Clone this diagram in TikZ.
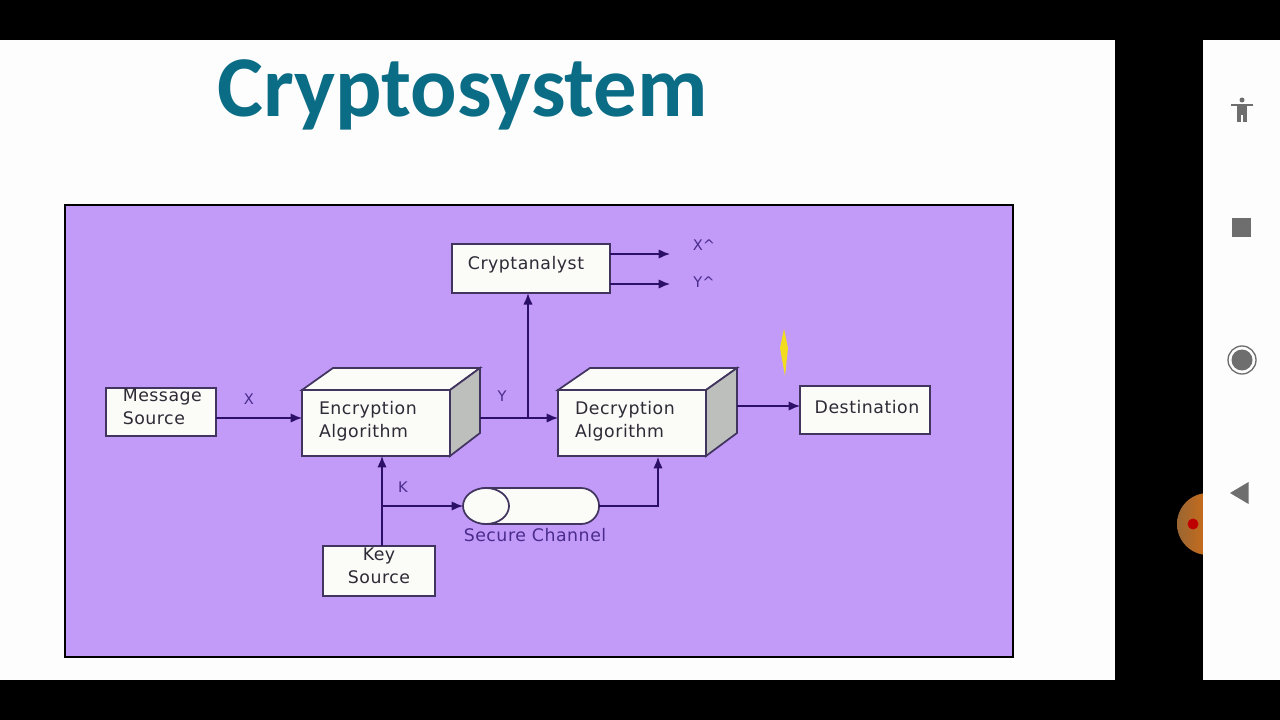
\documentclass[tikz,border=0pt]{standalone}
\usepackage{fontspec}
\setmainfont{DejaVu Sans}
\newfontfamily\titlefont{Carlito}
\usetikzlibrary{shapes.misc,shapes.geometric,arrows.meta}
\definecolor{slidewhite}{HTML}{FCFDFC}
\definecolor{slidepurple}{HTML}{C29AF8}
\definecolor{titleteal}{HTML}{0B6C86}
\definecolor{wirecolor}{HTML}{2C0F66}
\definecolor{edgecolor}{HTML}{41355F}
\definecolor{boxwhite}{HTML}{FBFBF8}
\definecolor{sidegrey}{HTML}{BDBFBC}
\definecolor{labelpurple}{HTML}{4A2C8C}
\definecolor{textgrey}{HTML}{2E2A36}
\definecolor{icongrey}{HTML}{6E6E6E}
\definecolor{sparkyellow}{HTML}{F2DC1E}
\tikzset{
	cryptbox/.style={draw=edgecolor,fill=boxwhite,line width=1.3pt,rectangle,outer sep=0pt,text=textgrey,font=\fontsize{13}{17}\selectfont\addfontfeature{LetterSpace=3}},
	wire/.style={draw=wirecolor,line width=1.1pt},
	arrowwire/.style={wire,-{Latex[length=8.5pt,width=7pt]}},
	wirelabel/.style={text=labelpurple,font=\fontsize{11}{13}\selectfont,inner sep=0pt},
}
\begin{document}
\begin{tikzpicture}[x=0.75pt,y=-0.75pt]
	\useasboundingbox (0,0) rectangle (1280,720);
	\fill[black] (0,0) rectangle (1280,720);
	\fill[slidewhite] (0,40) rectangle (1115,680);
	\shade[left color=brown!80!black,right color=orange!90!red] (1208,524) circle (31);
	\fill[red!75!black] (1193,524) circle (5.5);
	\fill[slidewhite] (1203,40) rectangle (1280,680);
	\node (title) at (462.5,95) [text=titleteal,font=\titlefont\bfseries\fontsize{65}{70}\selectfont,inner sep=0pt] {Cryptosystem};
	\draw[black,line width=2.2pt,fill=slidepurple] (65,205) rectangle (1013,657);
	% solid boxes
	\node (enc) at (376,423) [cryptbox,minimum width=111pt,minimum height=49.5pt,text width=85.5pt,inner xsep=12.75pt,align=left] {Encryption\\Algorithm\par\vspace{3pt}};
	\draw[edgecolor,line width=1.3pt,fill=boxwhite] (enc.north west) -- (333,368) -- (480,368) -- (enc.north east) -- cycle;
	\draw[edgecolor,line width=1.3pt,fill=sidegrey] (enc.north east) -- (480,368) -- (480,433) -- (enc.south east) -- cycle;
	\node (dec) at (632,423) [cryptbox,minimum width=111pt,minimum height=49.5pt,text width=85.5pt,inner xsep=12.75pt,align=left] {Decryption\\Algorithm\par\vspace{3pt}};
	\draw[edgecolor,line width=1.3pt,fill=boxwhite] (dec.north west) -- (590,368) -- (737,368) -- (dec.north east) -- cycle;
	\draw[edgecolor,line width=1.3pt,fill=sidegrey] (dec.north east) -- (737,368) -- (737,433) -- (dec.south east) -- cycle;
	% plain boxes
	\node (msg) at (161,412) [cryptbox,minimum width=82.5pt,minimum height=36pt,inner ysep=0pt,text depth=8pt,align=left] {\hspace*{2pt}Message\\\hspace*{2pt}Source};
	\node (crypt) at (531,268.5) [cryptbox,minimum width=118.5pt,minimum height=37pt,text depth=8pt] {Cryptanalyst\hspace*{7.5pt}};
	\node (dest) at (865,410) [cryptbox,minimum width=97.5pt,minimum height=36pt,text depth=4pt] {\hspace*{3pt}Destination};
	\node (key) at (379,571) [cryptbox,minimum width=84pt,minimum height=37.5pt,inner ysep=0pt,text depth=8pt,align=center] {Key\\Source};
	\node (channel) at (533.5,506) [cryptbox,rounded rectangle,minimum width=105pt,minimum height=27pt] {};
	\node (channelend) at (486,506) [cryptbox,ellipse,minimum width=34.5pt,minimum height=27pt] {};
	% connectors
	\coordinate (msgout) at (216,418);
	\coordinate (encout) at (480,418);
	\coordinate (tap) at (528,418);
	\coordinate (decout) at (737,406);
	\coordinate (keyout) at (382,546);
	\coordinate (keytap) at (382,506);
	\coordinate (cryptx) at (610,254);
	\coordinate (crypty) at (610,284);
	\coordinate (xend) at (670,254);
	\coordinate (yend) at (670,284);
	\draw[arrowwire] (msgout) -- (msgout -| enc.west);
	\draw[arrowwire] (encout) -- (encout -| dec.west);
	\draw[arrowwire] (tap) -- (tap |- crypt.south);
	\draw[arrowwire] (decout) -- (decout -| dest.west);
	\draw[arrowwire] (keyout) -- (keyout |- enc.south);
	\draw[arrowwire] (keytap) -- (keytap -| channelend.west);
	\draw[arrowwire] (channel.east) -| (658,457);
	\draw[arrowwire] (cryptx) -- (xend);
	\draw[arrowwire] (crypty) -- (yend);
	% labels
	\node (xlabel) at (249,399) [wirelabel] {X};
	\node (ylabel) at (502,396) [wirelabel] {Y};
	\node (klabel) at (403,487) [wirelabel] {K};
	\node (xhat) at (704,245) [wirelabel] {X\^{}};
	\node (yhat) at (704,282) [wirelabel] {Y\^{}};
	\node (chanlabel) at (535,535) [wirelabel,font=\fontsize{13}{15}\selectfont\addfontfeature{LetterSpace=3}] {Secure Channel};
	% pointer spark
	\fill[sparkyellow] (784,329) -- (788,348) -- (785,376) -- (780,348) -- cycle;
	% side panel icons
	\fill[icongrey] (1242,100) circle (2.5);
	\fill[icongrey] (1231,104) rectangle (1253,106.5);
	\fill[icongrey] (1237,106) rectangle (1247,115);
	\fill[icongrey] (1237,115) rectangle (1241,122);
	\fill[icongrey] (1243,115) rectangle (1247,122);
	\fill[icongrey] (1232,218) rectangle (1251,237);
	\draw[icongrey,line width=1pt] (1242,360) circle (14);
	\fill[icongrey] (1242,360) circle (10.5);
	\fill[icongrey] (1230,493) -- (1248.5,482) -- (1248.5,504) -- cycle;
\end{tikzpicture}
\end{document}
